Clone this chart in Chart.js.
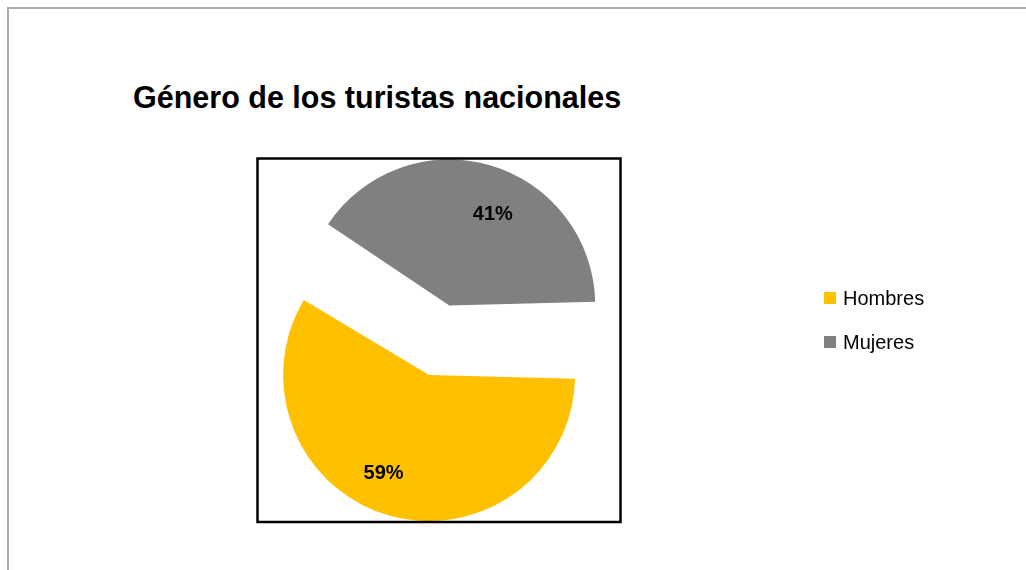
<!DOCTYPE html>
<html>
<head>
<meta charset="utf-8">
<script src="https://cdn.jsdelivr.net/npm/chart.js"></script>
<style>
    html, body { margin: 0; padding: 0; background: #fff; overflow: hidden; }
    #wrap { position: relative; width: 1026px; height: 570px; }
    #frame {
        position: absolute; left: 7px; top: 7px; width: 1100px; height: 700px;
        border-left: 2px solid #ababab; border-top: 2px solid #ababab;
    }
    #title {
        position: absolute; left: 133px; top: 80px;
        font: bold 30.5px "Liberation Sans", Arial, sans-serif; color: #000;
        white-space: nowrap;
    }
    canvas { position: absolute; left: 0; top: 0; }
</style>
</head>
<body>
<div id="wrap">
    <div id="frame"></div>
    <div id="title">Género de los turistas nacionales</div>
    <canvas id="chart" width="1026" height="570"></canvas>
</div>
<script>
    // Chart data
    const labels = ['Hombres', 'Mujeres'];
    const values = [59, 41];
    const colors = ['#FFC000', '#808080'];

    // Plot area border (the black square round the pie)
    const boxPlugin = {
        id: 'plotBox',
        afterDraw(chart) {
            const ctx = chart.ctx;
            ctx.save();
            ctx.strokeStyle = '#000';
            ctx.lineWidth = 2.5;
            ctx.strokeRect(257.5, 158.5, 363, 363.5);
            ctx.restore();
        }
    };

    // Percentage labels inside the slices
    const labelPlugin = {
        id: 'sliceLabels',
        afterDatasetsDraw(chart) {
            const ctx = chart.ctx;
            const meta = chart.getDatasetMeta(0);
            ctx.save();
            ctx.font = 'bold 20px "Liberation Sans", Arial, sans-serif';
            ctx.fillStyle = '#000';
            ctx.textAlign = 'center';
            ctx.textBaseline = 'middle';
            meta.data.forEach((arc, i) => {
                const mid = (arc.startAngle + arc.endAngle) / 2;
                const shift = (arc.options.offset || 0) / 4;
                const cx = arc.x + Math.cos(mid) * shift;
                const cy = arc.y + Math.sin(mid) * shift;
                const a = mid + 9 * Math.PI / 180;
                const r = arc.outerRadius * 0.85;
                ctx.fillText(values[i] + '%', cx + Math.cos(a) * r - 1, cy + Math.sin(a) * r + 4);
            });
            ctx.restore();
        }
    };

    // Legend on the right
    const legendPlugin = {
        id: 'sideLegend',
        afterDraw(chart) {
            const ctx = chart.ctx;
            const ds = chart.data.datasets[0];
            ctx.save();
            ctx.font = '20px "Liberation Sans", Arial, sans-serif';
            ctx.textBaseline = 'alphabetic';
            chart.data.labels.forEach((label, i) => {
                const y = 305 + i * 44;
                ctx.fillStyle = ds.backgroundColor[i];
                ctx.fillRect(824, y - 13, 12, 12);
                ctx.fillStyle = '#000';
                ctx.fillText(label, 843, y);
            });
            ctx.restore();
        }
    };

    new Chart(document.getElementById('chart'), {
        type: 'pie',
        data: {
            labels: labels,
            datasets: [{
                data: values,
                backgroundColor: colors,
                borderWidth: 0,
                offset: [92, 198],
                radius: 123,
                clip: false
            }]
        },
        options: {
            responsive: false,
            animation: false,
            devicePixelRatio: 1,
            rotation: 90,
            layout: { padding: { left: 257, right: 412, top: 157, bottom: 21 } },
            events: [],
            plugins: {
                legend: { display: false },
                title: { display: false },
                tooltip: { enabled: false }
            }
        },
        plugins: [boxPlugin, labelPlugin, legendPlugin]
    });
</script>
</body>
</html>
